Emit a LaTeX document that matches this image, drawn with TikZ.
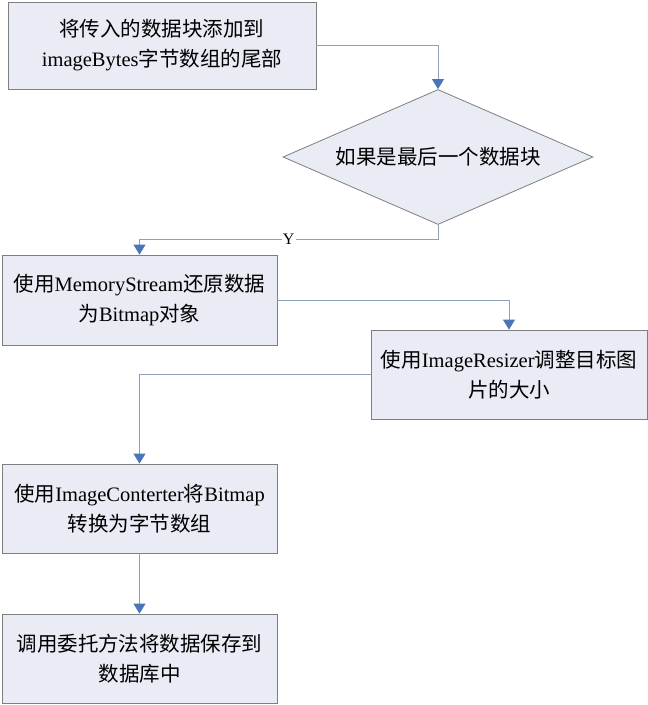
\documentclass[tikz,border=0pt]{standalone}
\usepackage{fontspec}
\setmainfont{Liberation Serif}
\newfontfamily\cjk{Noto Sans CJK SC}
\usetikzlibrary{arrows.meta,shapes.geometric}
\definecolor{flowFill}{HTML}{E9EBF5}
\definecolor{flowEdge}{HTML}{7F7F7F}
\definecolor{flowLine}{HTML}{8AA2BE}
\definecolor{flowTip}{HTML}{4A76B8}

\begin{document}
\begin{tikzpicture}[x=1pt,y=-1pt,>={Triangle[width=12pt,length=10pt,fill=flowTip,color=flowTip]},line join=miter]
\path[fill=white] (0,0) rectangle (648,705);
\tikzset{stepbox/.style={draw=flowEdge,fill=flowFill,line width=0.8pt,align=center,inner sep=0pt,font=\fontsize{20.5}{30}\selectfont},conn/.style={draw=flowLine,line width=0.8pt,->}}
\node[stepbox,minimum width=308pt,minimum height=87pt] (append) at (162,45.5) {{\cjk 将传入的数据块添加到}\\imageBytes{\cjk 字节数组的尾部}};
\node[stepbox,diamond,aspect=2.3,minimum width=310pt,minimum height=135pt] (last) at (438,157) {\cjk 如果是最后一个数据块};
\node[stepbox,minimum width=275pt,minimum height=90pt] (restore) at (139.5,300) {{\cjk 使用}MemoryStream{\cjk 还原数据}\\{\cjk 为}Bitmap{\cjk 对象}};
\node[stepbox,minimum width=276pt,minimum height=89pt] (resize) at (509,374.5) {{\cjk 使用}ImageResizer{\cjk 调整目标图}\\{\cjk 片的大小}};
\node[stepbox,minimum width=275pt,minimum height=89pt] (convert) at (139.5,508.5) {{\cjk 使用}ImageConterter{\cjk 将}Bitmap\\{\cjk 转换为字节数组}};
\node[stepbox,minimum width=275pt,minimum height=89pt] (save) at (139.5,658.5) {{\cjk 调用委托方法将数据保存到}\\{\cjk 数据库中}};
% connectors
\draw[conn] (append.east) -| (last.north);
\draw[conn] (last.south) -- ++(0,14) -| node[pos=0.25,fill=white,inner sep=1pt,font=\fontsize{16}{16}\selectfont] (yes) {Y} (restore.north);
\draw[conn] (restore.east) -| (resize.north);
\draw[conn] (resize.west) -| (convert.north);
\draw[conn] (convert.south) -- (save.north);
\end{tikzpicture}
\end{document}
